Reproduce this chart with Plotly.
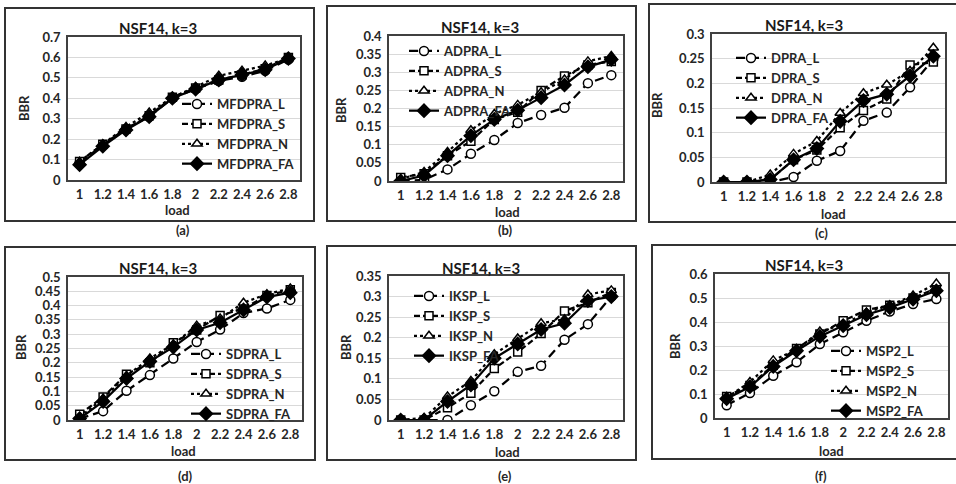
import plotly.graph_objects as go

# ---------------- data ----------------
loads = [1.0, 1.2, 1.4, 1.6, 1.8, 2.0, 2.2, 2.4, 2.6, 2.8]
load_labels = ["1", "1.2", "1.4", "1.6", "1.8", "2", "2.2", "2.4", "2.6", "2.8"]
suffixes = ["L", "S", "N", "FA"]
prefixes = ["MFDPRA", "ADPRA", "DPRA", "SDPRA", "IKSP", "MSP2"]
captions = ["(a)", "(b)", "(c)", "(d)", "(e)", "(f)"]
panel_title = "NSF14, k=3"
y_max = [0.7, 0.4, 0.3, 0.5, 0.35, 0.6]
y_step = [0.1, 0.05, 0.05, 0.05, 0.05, 0.1]

# (a) MFDPRA
a_L = [0.085, 0.17, 0.25, 0.31, 0.40, 0.445, 0.485, 0.505, 0.535, 0.59]
a_S = [0.09, 0.175, 0.25, 0.315, 0.405, 0.45, 0.49, 0.515, 0.545, 0.60]
a_N = [0.09, 0.175, 0.26, 0.33, 0.405, 0.455, 0.51, 0.535, 0.56, 0.595]
a_FA = [0.075, 0.165, 0.245, 0.31, 0.40, 0.445, 0.49, 0.515, 0.54, 0.595]
# (b) ADPRA
b_L = [0.0, 0.003, 0.032, 0.075, 0.113, 0.16, 0.182, 0.202, 0.27, 0.292]
b_S = [0.01, 0.02, 0.07, 0.11, 0.17, 0.19, 0.25, 0.29, 0.32, 0.33]
b_N = [0.005, 0.025, 0.08, 0.14, 0.185, 0.21, 0.245, 0.28, 0.33, 0.345]
b_FA = [0.0, 0.015, 0.07, 0.125, 0.17, 0.195, 0.23, 0.265, 0.315, 0.335]
# (c) DPRA
c_L = [0.0, 0.0, 0.0, 0.01, 0.043, 0.063, 0.124, 0.141, 0.192, 0.249]
c_S = [0.0, 0.0, 0.005, 0.045, 0.065, 0.11, 0.145, 0.168, 0.237, 0.243]
c_N = [0.0, 0.0, 0.015, 0.057, 0.083, 0.14, 0.18, 0.197, 0.225, 0.272]
c_FA = [0.0, 0.0, 0.005, 0.045, 0.068, 0.123, 0.165, 0.178, 0.215, 0.255]
# (d) SDPRA
d_L = [0.005, 0.031, 0.102, 0.157, 0.215, 0.273, 0.316, 0.374, 0.39, 0.42]
d_S = [0.02, 0.08, 0.16, 0.20, 0.27, 0.315, 0.365, 0.39, 0.435, 0.455]
d_N = [0.01, 0.075, 0.155, 0.215, 0.265, 0.33, 0.355, 0.41, 0.44, 0.46]
d_FA = [0.005, 0.065, 0.145, 0.205, 0.255, 0.315, 0.34, 0.385, 0.43, 0.445]
# (e) IKSP
e_L = [0.0, 0.0, 0.0, 0.036, 0.07, 0.117, 0.132, 0.195, 0.233, 0.30]
e_S = [0.0, 0.0, 0.03, 0.065, 0.125, 0.165, 0.21, 0.265, 0.285, 0.31]
e_N = [0.0, 0.005, 0.057, 0.095, 0.16, 0.198, 0.235, 0.245, 0.305, 0.315]
e_FA = [0.0, 0.0, 0.045, 0.085, 0.15, 0.185, 0.22, 0.235, 0.29, 0.30]
# (f) MSP2
f_L = [0.053, 0.104, 0.176, 0.232, 0.308, 0.357, 0.405, 0.444, 0.475, 0.496]
f_S = [0.09, 0.135, 0.22, 0.29, 0.35, 0.405, 0.45, 0.47, 0.50, 0.54]
f_N = [0.085, 0.15, 0.24, 0.285, 0.36, 0.39, 0.44, 0.47, 0.51, 0.56]
f_FA = [0.08, 0.13, 0.215, 0.28, 0.34, 0.385, 0.43, 0.46, 0.495, 0.53]

panel_series = [
    [a_L, a_S, a_N, a_FA],
    [b_L, b_S, b_N, b_FA],
    [c_L, c_S, c_N, c_FA],
    [d_L, d_S, d_N, d_FA],
    [e_L, e_S, e_N, e_FA],
    [f_L, f_S, f_N, f_FA],
]

# ---------------- layout geometry (pixels) ----------------
W, H = 956, 484
def px(x):
    return x / W
def py(y):
    return 1 - y / H

PLOT = [(68, 300, 37, 180), (389, 623, 36, 181), (712, 945, 34, 182),
        (68, 302, 277, 420), (389, 623, 276, 420), (715, 948, 274, 418)]
BOX = [(5, 314, 8, 221), (327, 636, 6, 221), (649, 990, 4, 222),
       (5, 315, 247, 460), (327, 636, 246, 460), (652, 990, 245, 459)]
TITLE_POS = [(158, 28), (480, 27), (804, 25), (158, 268), (481, 268), (804, 265)]
YT_POS = [(24, 108), (341, 110), (657, 105), (21, 347), (346, 347), (675, 346)]
XT_POS = [(177, 210), (507, 212), (833, 214), (183, 451), (507, 452), (831, 451)]
CAP_POS = [(183, 230), (505, 230), (821, 233), (185, 476), (505, 476), (821, 476)]
LEG_POS = [(219, 103), (446, 50), (773, 57), (228, 353), (451, 295), (868, 350)]

FONT = "Lato, 'Open Sans', sans-serif"
TXT = "#262626"

styles = [
    dict(dash="9px,5px", symbol="circle", fill="white", size=9),
    dict(dash="6px,3px", symbol="square", fill="white", size=8),
    dict(dash="dot", symbol="triangle-up", fill="white", size=9),
    dict(dash="solid", symbol="diamond", fill="black", size=10),
]

fig = go.Figure()
layout = dict(
    width=W, height=H, margin=dict(l=0, r=0, t=0, b=0, autoexpand=False),
    paper_bgcolor="white", plot_bgcolor="white", showlegend=True,
    annotations=[], shapes=[],
)

for i in range(6):
    n = "" if i == 0 else str(i + 1)
    xa, ya = "x" + n, "y" + n
    leg = "legend" + n
    for j, vals in enumerate(panel_series[i]):
        st = styles[j]
        fig.add_trace(go.Scatter(
            x=loads, y=vals, mode="lines+markers",
            name=f"{prefixes[i]}_{suffixes[j]}",
            xaxis=xa, yaxis=ya, legend=leg,
            line=dict(color="black", width=2.25, dash=st["dash"]),
            marker=dict(symbol=st["symbol"], size=st["size"], color=st["fill"],
                        line=dict(color="black", width=1.5)),
        ))
    L, R, T, B = PLOT[i]
    layout["xaxis" + n] = dict(
        domain=[px(L), px(R)], anchor=ya, range=[0.9, 2.9], automargin=False,
        tickmode="array", tickvals=loads, ticktext=load_labels,
        showgrid=False, zeroline=False, showline=True, mirror=True,
        linecolor="#404040", linewidth=1.5,
        ticks="outside", ticklen=2, tickcolor="rgba(0,0,0,0)",
        tickfont=dict(family=FONT, size=13, color=TXT, weight=700),
    )
    layout["yaxis" + n] = dict(
        domain=[py(B), py(T)], anchor=xa, range=[0, y_max[i]], automargin=False,
        tick0=0, dtick=y_step[i],
        showgrid=True, gridcolor="#d9d9d9", gridwidth=1, zeroline=False,
        showline=True, mirror=True, linecolor="#404040", linewidth=1.5,
        ticks="outside", ticklen=3, tickcolor="rgba(0,0,0,0)",
        tickfont=dict(family=FONT, size=13, color=TXT, weight=700),
    )
    lx, ly = LEG_POS[i]
    layout[leg] = dict(
        x=px(lx - 42), y=py(ly - 14), xanchor="left", yanchor="top",
        bgcolor="rgba(0,0,0,0)", borderwidth=0, tracegroupgap=0,
        font=dict(family=FONT, size=13, color=TXT, weight=700),
    )
    bx0, bx1, by0, by1 = BOX[i]
    layout["shapes"].append(dict(
        type="rect", xref="paper", yref="paper",
        x0=px(bx0), x1=px(bx1), y0=py(by1), y1=py(by0),
        line=dict(color="#333333", width=2), fillcolor="rgba(0,0,0,0)", layer="below",
    ))
    tx, ty = TITLE_POS[i]
    layout["annotations"].append(dict(
        text=panel_title, x=px(tx), y=py(ty), xref="paper", yref="paper",
        showarrow=False, xanchor="center", yanchor="middle",
        font=dict(family=FONT, size=15, color="#1a1a1a", weight=700),
    ))
    yx, yy = YT_POS[i]
    layout["annotations"].append(dict(
        text="BBR", x=px(yx), y=py(yy), xref="paper", yref="paper",
        showarrow=False, xanchor="center", yanchor="middle", textangle=-90,
        font=dict(family=FONT, size=13, color=TXT, weight=700),
    ))
    xx, xy = XT_POS[i]
    layout["annotations"].append(dict(
        text="load", x=px(xx), y=py(xy), xref="paper", yref="paper",
        showarrow=False, xanchor="center", yanchor="middle",
        font=dict(family=FONT, size=13, color=TXT, weight=700),
    ))
    cx, cy = CAP_POS[i]
    layout["annotations"].append(dict(
        text=captions[i], x=px(cx), y=py(cy), xref="paper", yref="paper",
        showarrow=False, xanchor="center", yanchor="middle",
        font=dict(family=FONT, size=13, color=TXT, weight=700),
    ))

fig.update_layout(**layout)
fig.write_html("out.html")
